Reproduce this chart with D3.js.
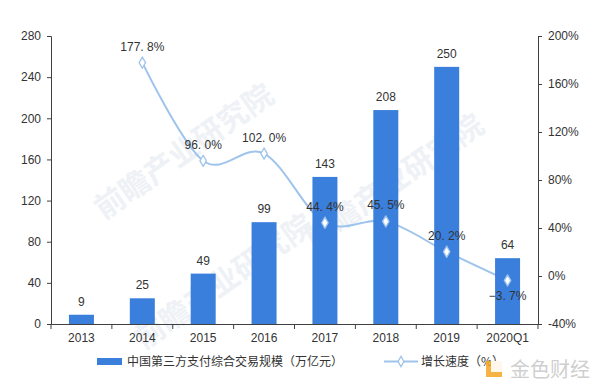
<!DOCTYPE html>
<html><head><meta charset="utf-8">
<script src="https://cdn.jsdelivr.net/npm/d3@7/dist/d3.min.js"></script>
<style>
html,body{margin:0;padding:0;background:#fff;}
svg{display:block;font-family:"Liberation Sans",Arial,sans-serif;}
</style></head><body>
<svg id="c" width="600" height="392"></svg>
<script>
const categories = ["2013","2014","2015","2016","2017","2018","2019","2020Q1"];
const scaleValues = [9,25,49,99,143,208,250,64];
const growthValues = [null,177.8,96.0,102.0,44.4,45.5,20.2,-3.7];
const leftTicks = [0,40,80,120,160,200,240,280];
const rightTicks = [-40,0,40,80,120,160,200];
const seriesNames = ["中国第三方支付综合交易规模（万亿元）","增长速度（%）"];

const barColor = "#3b7fdc", lineColor = "#9fc4ec", textColor = "#333";
const m = {l:51, r:538, t:36, b:324};
const svg = d3.select("#c");

// faint watermarks
const wm = svg.append("g").attr("fill","#eef1f5").attr("font-size",30).attr("font-weight","bold")
  .attr("font-family","'Noto Sans CJK SC',sans-serif");
[[190,160],[400,190],[230,290]].forEach(p=>{
  wm.append("text").attr("transform",`translate(${p[0]},${p[1]}) rotate(-35)`).attr("text-anchor","middle").text("前瞻产业研究院");
});

const x = d3.scaleBand().domain(categories).range([m.l,m.r]).paddingInner(0.59).paddingOuter(0.295);
const xb = d3.scaleBand().domain(categories).range([m.l,m.r]);
const yL = d3.scaleLinear().domain([0,280]).range([m.b,m.t]);
const yR = d3.scaleLinear().domain([-40,200]).range([m.b,m.t]);
const cx = c => xb(c)+xb.bandwidth()/2;

// line (behind bars)
const pts = categories.map((c,i)=>({c,v:growthValues[i]})).filter(d=>d.v!==null);
svg.append("path").datum(pts)
  .attr("d", d3.line().x(d=>cx(d.c)).y(d=>yR(d.v)).curve(d3.curveCardinal.tension(0)))
  .attr("fill","none").attr("stroke",lineColor).attr("stroke-width",2);

// bars
svg.append("g").selectAll("rect").data(scaleValues).join("rect")
  .attr("x",(d,i)=>cx(categories[i])-12.5).attr("width",25)
  .attr("y",d=>yL(d)).attr("height",d=>yL(0)-yL(d)).attr("fill",barColor);

// markers
svg.append("g").selectAll("path").data(pts).join("path")
  .attr("transform",d=>`translate(${cx(d.c)},${yR(d.v)})`)
  .attr("d",d3.symbol(d3.symbolDiamond,36))
  .attr("fill","#fff").attr("stroke",lineColor).attr("stroke-width",1.3)
  .attr("stroke-linejoin","round");

// axes
const axL = svg.append("g").attr("transform",`translate(${m.l},0)`)
  .call(d3.axisLeft(yL).tickValues(leftTicks).tickSize(4).tickPadding(6));
const axR = svg.append("g").attr("transform",`translate(${m.r},0)`)
  .call(d3.axisRight(yR).tickValues(rightTicks).tickSize(4).tickPadding(6).tickFormat(d=>d+"%"));
const axX = svg.append("g").attr("transform",`translate(0,${m.b})`)
  .call(d3.axisBottom(x).tickSize(0).tickPadding(9));
[axL,axR,axX].forEach(a=>{
  a.select(".domain").attr("stroke","#404040");
  a.selectAll(".tick line").attr("stroke","#404040");
  a.selectAll("text").attr("fill",textColor).attr("font-size",12);
});
// x boundary ticks
svg.append("g").selectAll("line").data(d3.range(categories.length+1)).join("line")
  .attr("x1",i=>m.l+i*xb.step()).attr("x2",i=>m.l+i*xb.step())
  .attr("y1",m.b).attr("y2",m.b+5).attr("stroke","#404040");

// bar labels
svg.append("g").selectAll("text").data(scaleValues).join("text")
  .attr("x",(d,i)=>cx(categories[i])).attr("y",d=>yL(d)-9)
  .attr("text-anchor","middle").attr("font-size",12).attr("fill",textColor).text(d=>d);

// growth labels
const fmt = v => v.toFixed(1).replace(".",". ")+"%";
svg.append("g").selectAll("text").data(pts).join("text")
  .attr("x",d=>cx(d.c)).attr("y",(d,i)=> d.v<0 ? yR(d.v)+20 : yR(d.v)-12)
  .attr("text-anchor","middle").attr("font-size",12).attr("fill",textColor)
  .text(d=>(d.v<0?"−":"")+fmt(Math.abs(d.v)));

// legend
const lg = svg.append("g");
lg.append("rect").attr("x",97).attr("y",358).attr("width",25).attr("height",7).attr("fill",barColor);
lg.append("text").attr("x",127).attr("y",366).attr("font-size",12).attr("fill",textColor)
  .attr("font-family","'Noto Sans CJK SC',sans-serif").text(seriesNames[0]);
lg.append("line").attr("x1",384).attr("x2",418).attr("y1",361.5).attr("y2",361.5).attr("stroke",lineColor).attr("stroke-width",2);
lg.append("path").attr("transform","translate(401,361.5)").attr("d",d3.symbol(d3.symbolDiamond,30))
  .attr("fill","#fff").attr("stroke",lineColor).attr("stroke-width",1.3);
lg.append("text").attr("x",421).attr("y",366).attr("font-size",12).attr("fill",textColor)
  .attr("font-family","'Noto Sans CJK SC',sans-serif").text(seriesNames[1]);

// corner logo watermark
const logo = svg.append("g");
logo.append("rect").attr("x",486).attr("y",361).attr("width",16).attr("height",16).attr("fill","#f5a623").attr("opacity",0.85);
logo.append("rect").attr("x",491).attr("y",361).attr("width",11).attr("height",11).attr("fill","#fff").attr("opacity",0.9);
logo.append("text").attr("x",510).attr("y",377).attr("font-size",20).attr("fill","#cfcfcf")
  .attr("font-family","'Noto Sans CJK SC',sans-serif").text("金色财经");
</script>
</body></html>
